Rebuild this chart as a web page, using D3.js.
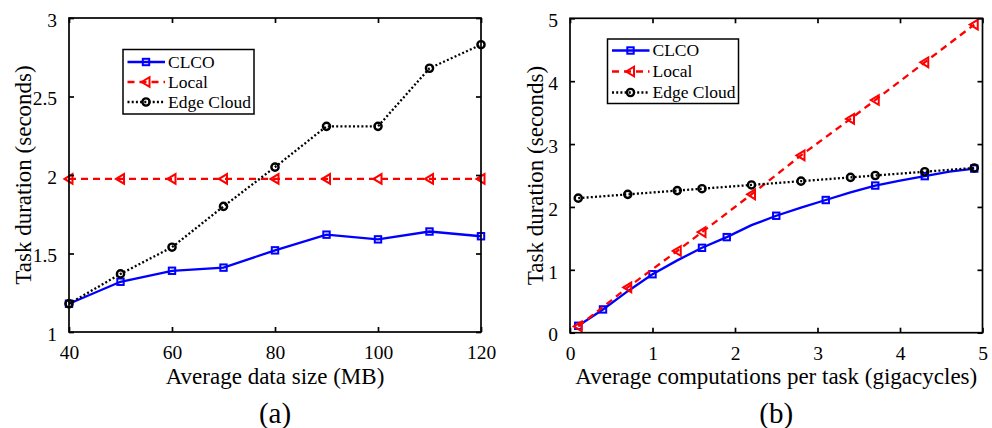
<!DOCTYPE html>
<html><head><meta charset="utf-8">
<script src="https://cdn.jsdelivr.net/npm/d3@7"></script>
<style>
html,body{margin:0;padding:0;background:#fff;}
svg text{font-family:"Liberation Serif","Times New Roman",serif;fill:#000;}
</style></head>
<body><svg id="c" width="992" height="428"></svg>
<script>
// ---- Panel (a) data ----
const sizeA = [40, 50, 60, 70, 80, 90, 100, 110, 120];
const clcoA = [1.18, 1.32, 1.39, 1.41, 1.52, 1.62, 1.59, 1.64, 1.61];
const localA = [1.975, 1.975, 1.975, 1.975, 1.975, 1.975, 1.975, 1.975, 1.975];
const edgeA = [1.18, 1.37, 1.54, 1.80, 2.05, 2.31, 2.31, 2.68, 2.83];
const xTicksA = [40, 60, 80, 100, 120];
const yTicksA = [1, 1.5, 2, 2.5, 3];

// ---- Panel (b) data ----
const compB = [0.1, 0.7, 1.3, 1.6, 2.2, 2.8, 3.4, 3.7, 4.3, 4.9];
const localB = [0.1, 0.72, 1.3, 1.6, 2.2, 2.82, 3.4, 3.7, 4.3, 4.9];
const edgeB = [2.14, 2.20, 2.26, 2.29, 2.35, 2.41, 2.47, 2.50, 2.56, 2.62];
const clcoBX = [0.1, 0.4, 0.7, 1.0, 1.3, 1.6, 1.9, 2.2, 2.5, 2.8, 3.1, 3.4, 3.7, 4.0, 4.3, 4.6, 4.9];
const clcoB = [0.11, 0.37, 0.66, 0.93, 1.15, 1.35, 1.52, 1.71, 1.86, 1.99, 2.11, 2.23, 2.34, 2.42, 2.49, 2.56, 2.61];
const clcoBMarked = [0.1, 0.4, 1.0, 1.6, 1.9, 2.5, 3.1, 3.7, 4.3, 4.9];
const xTicksB = [0, 1, 2, 3, 4, 5];
const yTicksB = [0, 1, 2, 3, 4, 5];

const seriesNames = ["CLCO", "Local", "Edge Cloud"];

const svg = d3.select("#c");
const styles = {
  "CLCO": {color: "#0000ff", dash: null, marker: "square"},
  "Local": {color: "#ff0000", dash: "7,5", marker: "tri"},
  "Edge Cloud": {color: "#000000", dash: "2,2.2", marker: "circle"}
};

function drawMarker(g, type, x, y, color) {
  if (type === "square") {
    g.append("rect").attr("x", x - 3.2).attr("y", y - 3.2).attr("width", 6.4).attr("height", 6.4)
      .attr("fill", "none").attr("stroke", color).attr("stroke-width", 2);
  } else if (type === "tri") {
    g.append("path").attr("d", `M${x - 4.5},${y} L${x + 3.5},${y - 4.8} L${x + 3.5},${y + 4.8} Z`)
      .attr("fill", "none").attr("stroke", color).attr("stroke-width", 2);
  } else {
    g.append("circle").attr("cx", x).attr("cy", y).attr("r", 3.6)
      .attr("fill", "none").attr("stroke", color).attr("stroke-width", 2.4);
  }
}

function panel(cfg) {
  const x = d3.scaleLinear().domain(cfg.xDomain).range([cfg.left, cfg.right]);
  const y = d3.scaleLinear().domain(cfg.yDomain).range([cfg.bottom, cfg.top]);
  const g = svg.append("g");

  // series
  cfg.series.forEach(s => {
    const st = styles[s.name];
    const pts = s.xs.map((xv, i) => [x(xv), y(s.ys[i])]);
    g.append("path").attr("d", d3.line()(pts)).attr("fill", "none")
      .attr("stroke", st.color).attr("stroke-width", 2.3)
      .attr("stroke-dasharray", st.dash);
    const mk = s.markXs || s.xs;
    mk.forEach(mx => {
      const i = s.xs.findIndex(v => Math.abs(v - mx) < 1e-9);
      drawMarker(g, st.marker, x(mx), y(s.ys[i]), st.color);
    });
  });

  // box
  g.append("rect").attr("x", cfg.left).attr("y", cfg.top)
    .attr("width", cfg.right - cfg.left).attr("height", cfg.bottom - cfg.top)
    .attr("fill", "none").attr("stroke", "#000").attr("stroke-width", 1.7);

  // axes (inward ticks on all sides)
  const ax = g.append("g").attr("transform", `translate(0,${cfg.bottom})`)
    .call(d3.axisBottom(x).tickValues(cfg.xTicks).tickSizeInner(-5).tickSizeOuter(0).tickPadding(13).tickFormat(d3.format("~g")));
  const axT = g.append("g").attr("transform", `translate(0,${cfg.top})`)
    .call(d3.axisTop(x).tickValues(cfg.xTicks).tickSizeInner(-5).tickSizeOuter(0).tickFormat(""));
  const ay = g.append("g").attr("transform", `translate(${cfg.left},0)`)
    .call(d3.axisLeft(y).tickValues(cfg.yTicks).tickSizeInner(-5).tickSizeOuter(0).tickPadding(12).tickFormat(d3.format("~g")));
  const ayR = g.append("g").attr("transform", `translate(${cfg.right},0)`)
    .call(d3.axisRight(y).tickValues(cfg.yTicks).tickSizeInner(-5).tickSizeOuter(0).tickFormat(""));
  [ax, axT, ay, ayR].forEach(a => {
    a.select(".domain").remove();
    a.selectAll(".tick line").attr("stroke", "#000").attr("stroke-width", 1.7);
    a.selectAll("text").style("font-family", '"Liberation Serif",serif').style("font-size", "19.5px").attr("fill", "#000");
  });
  ax.selectAll("text").attr("dy", "0.71em");
  ay.selectAll("text").attr("dy", "0.42em");

  // labels
  g.append("text").attr("x", (cfg.left + cfg.right) / 2).attr("y", 384)
    .attr("text-anchor", "middle").style("font-size", "23px").text(cfg.xLabel);
  g.append("text").attr("transform", `translate(${cfg.yLabelX},${(cfg.top + cfg.bottom) / 2}) rotate(-90)`)
    .attr("text-anchor", "middle").style("font-size", "23px").text(cfg.yLabel);
  g.append("text").attr("x", (cfg.left + cfg.right) / 2).attr("y", 423)
    .attr("text-anchor", "middle").style("font-size", "29px").text(cfg.caption);

  // legend
  const L = cfg.legend;
  g.append("rect").attr("x", L.x).attr("y", L.y).attr("width", L.w).attr("height", L.h)
    .attr("fill", "#fff").attr("stroke", "#000").attr("stroke-width", 1.5);
  seriesNames.forEach((n, i) => {
    const st = styles[n];
    const cy = L.y + L.first + i * L.step;
    g.append("line").attr("x1", L.x + 4.5).attr("x2", L.x + 42).attr("y1", cy).attr("y2", cy)
      .attr("stroke", st.color).attr("stroke-width", 2.3).attr("stroke-dasharray", st.dash);
    drawMarker(g, st.marker, L.x + 23, cy, st.color);
    g.append("text").attr("x", L.x + 45).attr("y", cy).attr("dy", "0.33em")
      .style("font-size", "17.5px").text(n);
  });
}

panel({
  left: 69, right: 481, top: 18, bottom: 332,
  xDomain: [40, 120], yDomain: [1, 3],
  xTicks: xTicksA, yTicks: yTicksA,
  xLabel: "Average data size (MB)", yLabel: "Task duration (seconds)", yLabelX: 31, caption: "(a)",
  series: [
    {name: "CLCO", xs: sizeA, ys: clcoA},
    {name: "Local", xs: sizeA, ys: localA},
    {name: "Edge Cloud", xs: sizeA, ys: edgeA}
  ],
  legend: {x: 123, y: 49.5, w: 131, h: 64.5, first: 12.5, step: 20}
});

panel({
  left: 570, right: 982.5, top: 18.3, bottom: 332.7,
  xDomain: [0, 5], yDomain: [0, 5],
  xTicks: xTicksB, yTicks: yTicksB,
  xLabel: "Average computations per task (gigacycles)", yLabel: "Task duration (seconds)", yLabelX: 543, caption: "(b)",
  series: [
    {name: "CLCO", xs: clcoBX, ys: clcoB, markXs: clcoBMarked},
    {name: "Local", xs: compB, ys: localB},
    {name: "Edge Cloud", xs: compB, ys: edgeB}
  ],
  legend: {x: 607.5, y: 39, w: 131, h: 64.5, first: 11.5, step: 21}
});
</script></body></html>
